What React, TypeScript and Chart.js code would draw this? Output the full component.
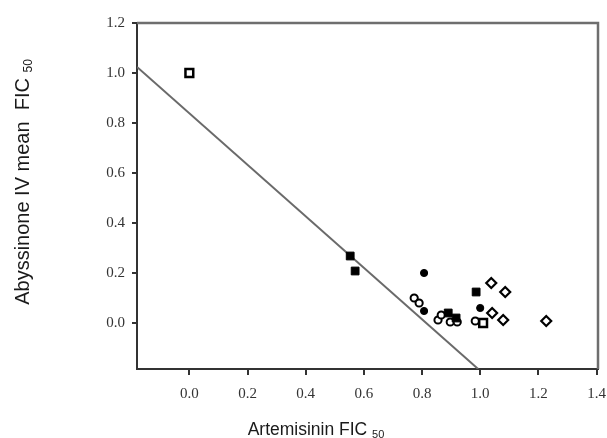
import React, { useEffect, useRef } from "react";
import { Chart, registerables } from "chart.js";

Chart.register(...registerables);

// ---- data ----
const xTickValues = [0, 0.2, 0.4, 0.6, 0.8, 1.0, 1.2, 1.4];
const yTickValues = [0, 0.2, 0.4, 0.6, 0.8, 1.0, 1.2];

const filledSquareX = [0.553, 0.57, 0.89, 0.917, 0.986];
const filledSquareY = [0.268, 0.208, 0.04, 0.02, 0.124];

const filledCircleX = [0.807, 0.807, 1.0];
const filledCircleY = [0.2, 0.048, 0.06];

const openCircleX = [0.773, 0.79, 0.855, 0.866, 0.897, 0.921, 0.983];
const openCircleY = [0.1, 0.08, 0.012, 0.032, 0.004, 0.004, 0.008];

const openSquareX = [0.0, 1.01];
const openSquareY = [1.0, 0.0];

const openDiamondX = [1.038, 1.086, 1.041, 1.079, 1.227];
const openDiamondY = [0.16, 0.124, 0.04, 0.012, 0.008];

const lineX = [-0.18, 0.993];
const lineY = [1.024, -0.184];

const xTitle = "Artemisinin FIC";
const yTitle = "Abyssinone IV mean  FIC";
const subscript = "50";

const zip = (xs: number[], ys: number[]) => xs.map((x, i) => ({ x, y: ys[i] }));

const framePlugin = {
  id: "frame",
  afterDraw(chart: any) {
    const { ctx, chartArea } = chart;
    const { left, right, top, bottom } = chartArea;
    ctx.save();
    // top and right border
    ctx.strokeStyle = "#6e6e6e";
    ctx.lineWidth = 2.5;
    ctx.beginPath();
    ctx.moveTo(left, top);
    ctx.lineTo(right, top);
    ctx.lineTo(right, bottom);
    ctx.stroke();

    // x title
    ctx.fillStyle = "#1a1a1a";
    ctx.textBaseline = "alphabetic";
    ctx.textAlign = "left";
    ctx.font = "17.5px 'Liberation Sans', Arial, sans-serif";
    const xw = ctx.measureText(xTitle + " ").width;
    ctx.font = "11px 'Liberation Sans', Arial, sans-serif";
    const sw = ctx.measureText(subscript).width;
    const xCenter = 316;
    const xStart = xCenter - (xw + sw) / 2;
    ctx.font = "17.5px 'Liberation Sans', Arial, sans-serif";
    ctx.fillText(xTitle + " ", xStart, 435);
    ctx.font = "11px 'Liberation Sans', Arial, sans-serif";
    ctx.fillText(subscript, xStart + xw, 438);

    // y title
    ctx.translate(29, 182);
    ctx.rotate(-Math.PI / 2);
    ctx.font = "20px 'Liberation Sans', Arial, sans-serif";
    const yw = ctx.measureText(yTitle + " ").width;
    ctx.font = "12px 'Liberation Sans', Arial, sans-serif";
    const ysw = ctx.measureText(subscript).width;
    const yStart = -(yw + ysw) / 2;
    ctx.font = "20px 'Liberation Sans', Arial, sans-serif";
    ctx.fillText(yTitle + " ", yStart, 0);
    ctx.font = "12px 'Liberation Sans', Arial, sans-serif";
    ctx.fillText(subscript, yStart + yw, 3);
    ctx.restore();
  },
};

export default function App() {
  const ref = useRef<HTMLCanvasElement | null>(null);

  useEffect(() => {
    if (!ref.current) return;
    const chart = new Chart(ref.current, {
      type: "scatter",
      data: {
        datasets: [
          {
            type: "line",
            label: "line",
            data: zip(lineX, lineY),
            borderColor: "#6a6a6a",
            borderWidth: 2,
            pointRadius: 0,
            fill: false,
            order: 10,
          } as any,
          {
            label: "filled squares",
            data: zip(filledSquareX, filledSquareY),
            pointStyle: "rect",
            pointRadius: 5.5,
            backgroundColor: "#000",
            borderColor: "#000",
            borderWidth: 1,
            order: 1,
          },
          {
            label: "filled circles",
            data: zip(filledCircleX, filledCircleY),
            pointStyle: "circle",
            pointRadius: 3.6,
            backgroundColor: "#000",
            borderColor: "#000",
            borderWidth: 1,
            order: 1,
          },
          {
            label: "open circles",
            data: zip(openCircleX, openCircleY),
            pointStyle: "circle",
            pointRadius: 3.6,
            backgroundColor: "#fff",
            borderColor: "#000",
            borderWidth: 2,
            order: 2,
          },
          {
            label: "open squares",
            data: zip(openSquareX, openSquareY),
            pointStyle: "rect",
            pointRadius: 5.5,
            backgroundColor: "#fff",
            borderColor: "#000",
            borderWidth: 2.5,
            order: 2,
          },
          {
            label: "open diamonds",
            data: zip(openDiamondX, openDiamondY),
            pointStyle: "rectRot",
            pointRadius: 5,
            backgroundColor: "#fff",
            borderColor: "#000",
            borderWidth: 2.2,
            order: 2,
          },
        ],
      },
      options: {
        animation: false,
        responsive: false,
        events: [],
        layout: { padding: { left: 0, top: 23, right: 9, bottom: 0 } },
        plugins: {
          legend: { display: false },
          tooltip: { enabled: false },
          title: { display: false },
        },
        scales: {
          x: {
            type: "linear",
            min: -0.18,
            max: 1.405,
            afterBuildTicks: (s: any) => {
              s.ticks = xTickValues.map((v) => ({ value: v }));
            },
            afterFit: (s: any) => {
              s.height = 69;
              s.paddingLeft = 0;
              s.paddingRight = 0;
            },
            ticks: {
              callback: (v: any) => Number(v).toFixed(1),
              font: { family: "'Liberation Serif', 'Times New Roman', serif", size: 15 },
              color: "#333",
              padding: 10,
              maxRotation: 0,
              autoSkip: false,
            },
            grid: {
              display: true,
              drawOnChartArea: false,
              drawTicks: true,
              tickLength: 6,
              color: "#333",
              lineWidth: 2,
            },
            border: { display: true, color: "#333", width: 2 },
          },
          y: {
            type: "linear",
            min: -0.184,
            max: 1.2,
            afterBuildTicks: (s: any) => {
              s.ticks = yTickValues.map((v) => ({ value: v }));
            },
            afterFit: (s: any) => {
              s.width = 137;
              s.paddingTop = 0;
              s.paddingBottom = 0;
            },
            ticks: {
              callback: (v: any) => Number(v).toFixed(1),
              font: { family: "'Liberation Serif', 'Times New Roman', serif", size: 15 },
              color: "#333",
              padding: 7,
              autoSkip: false,
            },
            grid: {
              display: true,
              drawOnChartArea: false,
              drawTicks: true,
              tickLength: 5,
              color: "#333",
              lineWidth: 2,
            },
            border: { display: true, color: "#333", width: 2 },
          },
        },
      },
      plugins: [framePlugin],
    });
    return () => chart.destroy();
  }, []);

  return (
    <div style={{ position: "absolute", left: 0, top: 0, width: 607, height: 438, background: "#fff" }}>
      <canvas ref={ref} width={607} height={438} style={{ display: "block" }} />
    </div>
  );
}
